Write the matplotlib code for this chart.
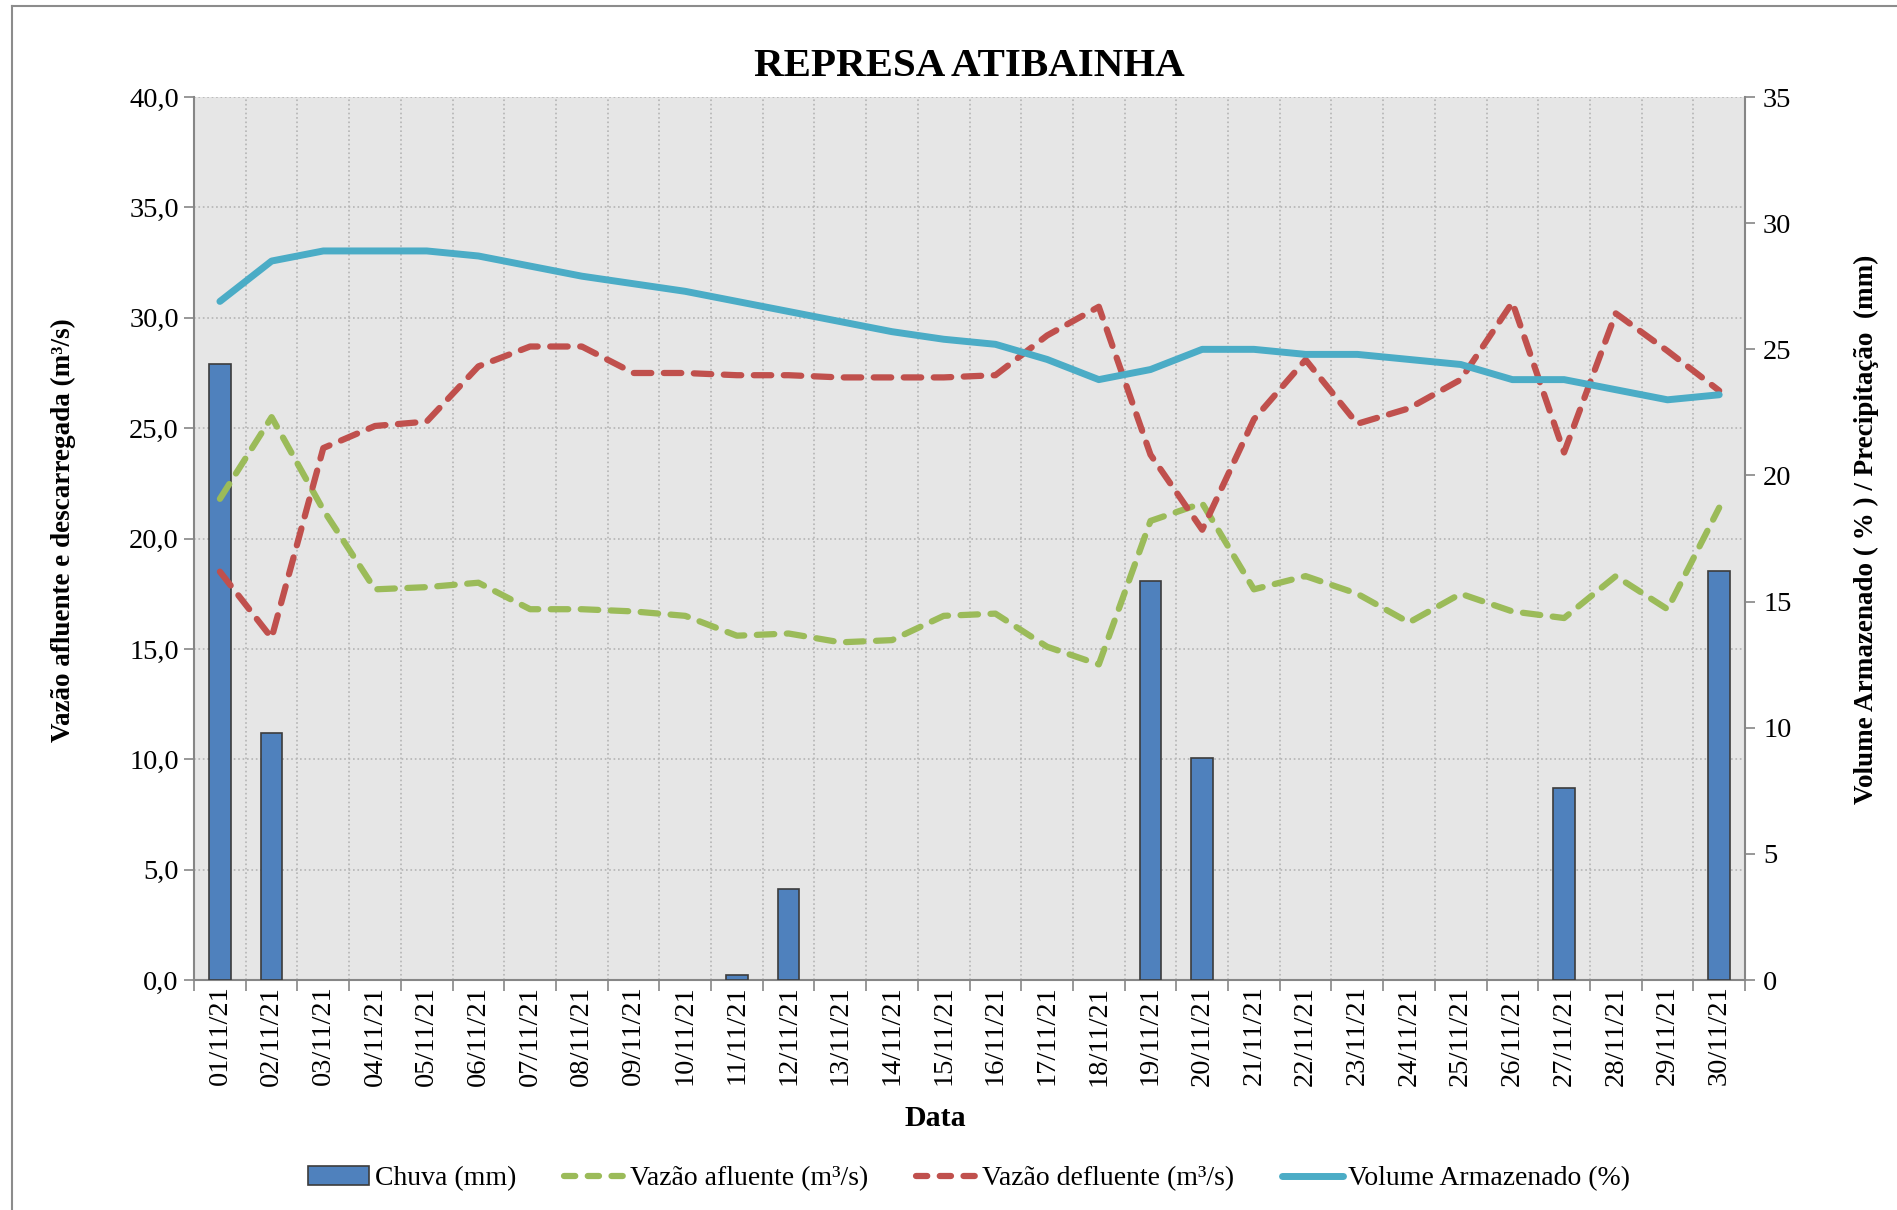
import matplotlib
matplotlib.use("Agg")
import matplotlib.pyplot as plt
from matplotlib.patches import Patch
from matplotlib.lines import Line2D
from matplotlib.ticker import FuncFormatter, MultipleLocator

# data
datas = ["01/11/21", "02/11/21", "03/11/21", "04/11/21", "05/11/21", "06/11/21",
         "07/11/21", "08/11/21", "09/11/21", "10/11/21", "11/11/21", "12/11/21",
         "13/11/21", "14/11/21", "15/11/21", "16/11/21", "17/11/21", "18/11/21",
         "19/11/21", "20/11/21", "21/11/21", "22/11/21", "23/11/21", "24/11/21",
         "25/11/21", "26/11/21", "27/11/21", "28/11/21", "29/11/21", "30/11/21"]
chuva = [24.4, 9.8, 0, 0, 0, 0, 0, 0, 0, 0, 0.2, 3.6, 0, 0, 0, 0, 0, 0,
         15.8, 8.8, 0, 0, 0, 0, 0, 0, 7.6, 0, 0, 16.2]
afluente = [21.8, 25.5, 21.3, 17.7, 17.8, 18.0, 16.8, 16.8, 16.7, 16.5, 15.6, 15.7,
            15.3, 15.4, 16.5, 16.6, 15.1, 14.3, 20.8, 21.6, 17.7, 18.3, 17.5, 16.2,
            17.5, 16.7, 16.4, 18.3, 16.8, 21.4]
defluente = [18.5, 15.5, 24.1, 25.1, 25.3, 27.8, 28.7, 28.7, 27.5, 27.5, 27.4, 27.4,
             27.3, 27.3, 27.3, 27.4, 29.2, 30.5, 23.8, 20.4, 25.4, 28.1, 25.2, 25.9,
             27.2, 30.7, 23.9, 30.2, 28.5, 26.7]
volume = [26.9, 28.5, 28.9, 28.9, 28.9, 28.7, 28.3, 27.9, 27.6, 27.3, 26.9, 26.5,
          26.1, 25.7, 25.4, 25.2, 24.6, 23.8, 24.2, 25.0, 25.0, 24.8, 24.8, 24.6,
          24.4, 23.8, 23.8, 23.4, 23.0, 23.2]

plt.rcParams['font.family'] = ['Liberation Serif', 'DejaVu Serif']

c_bar = "#4f81bd"
c_green = "#9bbb59"
c_red = "#c0504d"
c_blue = "#4bacc6"
c_axis = "#868686"
fs = 20.5
fs_lab = 19.5

fig = plt.figure(figsize=(18.97, 12.10), dpi=100)
ax = fig.add_axes([0.1023, 0.190, 0.8176, 0.7298])
ax.set_facecolor("#e6e6e6")

x = list(range(len(datas)))

# host: left scale and grid
ax.set_xlim(-0.5, len(datas) - 0.5)
ax.set_ylim(0, 40)
ax.yaxis.set_major_locator(MultipleLocator(5))
ax.yaxis.set_major_formatter(FuncFormatter(lambda v, p: f"{v:.1f}".replace(".", ",")))
ax.set_xticks(x)
ax.set_xticklabels(datas, rotation=90)
ax.set_xticks([i - 0.5 for i in range(len(datas) + 1)], minor=True)
ax.tick_params(axis="x", which="major", length=0, pad=4, labelsize=fs)
ax.tick_params(axis="x", which="minor", length=8, width=1.2, color=c_axis, direction="out")
ax.tick_params(axis="y", length=7, width=1.2, color=c_axis, labelsize=fs, pad=4)
ax.grid(True, axis="y", which="major", linestyle=":", color="#b4b4b4", linewidth=1.2)
ax.grid(True, axis="x", which="minor", linestyle=":", color="#b4b4b4", linewidth=1.2)
ax.set_axisbelow(True)
for s in ["top", "right"]:
    ax.spines[s].set_visible(False)
for s in ["left", "bottom"]:
    ax.spines[s].set_color(c_axis)
    ax.spines[s].set_linewidth(1.5)

ax.set_ylabel("Vazão afluente e descarregada (m³/s)", fontsize=fs_lab, fontweight="bold")
ax.yaxis.set_label_coords(-0.076, 0.51)
ax.set_xlabel("Data", fontsize=fs + 1, fontweight="bold")
ax.xaxis.set_label_coords(0.478, -0.142)
ax.set_title("REPRESA ATIBAINHA", fontsize=29.5, fontweight="bold", pad=15)

# right scale: rain bars
axb = ax.twinx()
axb.set_ylim(0, 35)
axb.yaxis.set_major_locator(MultipleLocator(5))
edge_w = [1.2 if v > 0 else 0 for v in chuva]
axb.bar(x, chuva, width=0.42, color=c_bar, edgecolor="#3c3c3c", linewidth=edge_w)
axb.tick_params(axis="y", length=7, width=1.2, color=c_axis, labelsize=fs, pad=6)
for s in ["top", "left", "bottom"]:
    axb.spines[s].set_visible(False)
axb.spines["right"].set_color(c_axis)
axb.spines["right"].set_linewidth(1.5)
axb.set_ylabel("Volume Armazenado ( % ) / Precipitação  (mm)", fontsize=fs_lab, fontweight="bold")
axb.yaxis.set_label_coords(1.070, 0.51)

# left scale: flows
axl = ax.twinx()
axl.set_ylim(0, 40)
axl.axis("off")
dash = (0, (2.8, 2.0))
axl.plot(x, afluente, color=c_green, lw=4.5, linestyle=dash, dash_capstyle="round")
axl.plot(x, defluente, color=c_red, lw=4.5, linestyle=dash, dash_capstyle="round")

# right scale: stored volume
axv = ax.twinx()
axv.set_ylim(0, 35)
axv.axis("off")
axv.plot(x, volume, color=c_blue, lw=5, solid_capstyle="round", solid_joinstyle="round")

handles = [
    Patch(facecolor=c_bar, edgecolor="#3c3c3c", linewidth=1.2),
    Line2D([], [], color=c_green, lw=4.5, linestyle=(0, (1.8, 2.0)), dash_capstyle="round"),
    Line2D([], [], color=c_red, lw=4.5, linestyle=(0, (1.8, 2.0)), dash_capstyle="round"),
    Line2D([], [], color=c_blue, lw=5, solid_capstyle="round"),
]
labels = ["Chuva (mm)", "Vazão afluente (m³/s)", "Vazão defluente (m³/s)", "Volume Armazenado (%)"]
fig.legend(handles, labels, loc="center", bbox_to_anchor=(0.511, 0.026), ncol=4,
           frameon=False, fontsize=20, handlelength=2.2, handletextpad=0.2,
           columnspacing=1.7, handleheight=0.7)

# outer chart border
fig.add_artist(Line2D([12 / 1897, 12 / 1897], [0, 1 - 6 / 1210], transform=fig.transFigure,
                      color="#8c8c8c", lw=1.5))
fig.add_artist(Line2D([12 / 1897, 1], [1 - 6 / 1210, 1 - 6 / 1210], transform=fig.transFigure,
                      color="#8c8c8c", lw=1.5))

fig.savefig("out.png", dpi=100)
